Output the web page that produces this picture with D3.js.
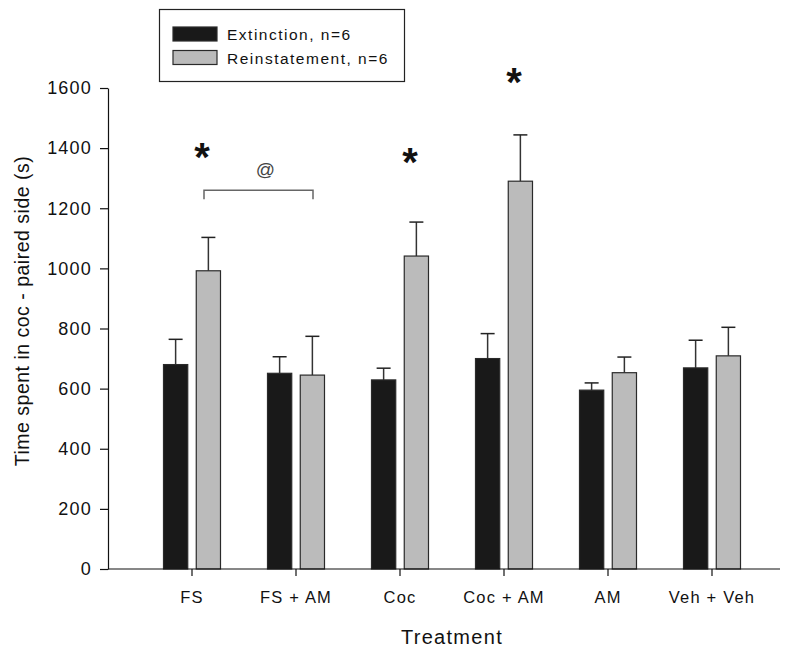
<!DOCTYPE html>
<html>
<head>
<meta charset="utf-8">
<script src="https://cdn.jsdelivr.net/npm/d3@7"></script>
<style>
  html, body { margin: 0; padding: 0; background: #fff; }
  svg { display: block; font-family: "Liberation Sans", Arial, sans-serif; }
</style>
</head>
<body>
<svg id="chart" width="800" height="651"></svg>
<script>
// ---- data ----
const categories = ["FS", "FS + AM", "Coc", "Coc + AM", "AM", "Veh + Veh"];
const seriesNames = ["Extinction, n=6", "Reinstatement, n=6"];
const extinction = [680, 651, 629, 700, 595, 669];
const extinctionErr = [84, 55, 39, 83, 24, 92];
const reinstatement = [992, 645, 1041, 1290, 653, 709];
const reinstatementErr = [111, 129, 113, 154, 52, 95];
const yTicks = [0, 200, 400, 600, 800, 1000, 1200, 1400, 1600];
const starCategories = ["FS", "Coc", "Coc + AM"];
const starLevels = [1400, 1384, 1650];
const bracketFrom = "FS", bracketTo = "FS + AM", bracketLevel = 1260, bracketLabel = "@";

// ---- layout ----
const svg = d3.select("#chart");
const axisLeftX = 108, axisRightX = 780;
const y = d3.scaleLinear().domain([0, 1600]).range([569, 88]);
const x = d3.scaleBand().domain(categories).range([140, 764]);
const sub = d3.scaleBand().domain(seriesNames).range([-28.5, 28.5]).paddingInner(0.26);
const fills = ["#191919", "#bbbbbb"];
const seriesVals = [extinction, reinstatement];
const seriesErr = [extinctionErr, reinstatementErr];
const cx = c => x(c) + x.bandwidth() / 2;

// bars + error bars
seriesNames.forEach((s, si) => {
  const g = svg.append("g");
  const data = categories.map((c, i) => ({ c, v: seriesVals[si][i], e: seriesErr[si][i] }));
  g.selectAll("line.err").data(data).join("line")
    .attr("x1", d => cx(d.c) + sub(s) + sub.bandwidth() / 2)
    .attr("x2", d => cx(d.c) + sub(s) + sub.bandwidth() / 2)
    .attr("y1", d => y(d.v)).attr("y2", d => y(d.v + d.e))
    .attr("stroke", "#333").attr("stroke-width", 1.5);
  g.selectAll("line.cap").data(data).join("line")
    .attr("x1", d => cx(d.c) + sub(s) + sub.bandwidth() / 2 - 7)
    .attr("x2", d => cx(d.c) + sub(s) + sub.bandwidth() / 2 + 7)
    .attr("y1", d => y(d.v + d.e)).attr("y2", d => y(d.v + d.e))
    .attr("stroke", "#222").attr("stroke-width", 1.5);
  g.selectAll("rect").data(data).join("rect")
    .attr("x", d => cx(d.c) + sub(s))
    .attr("width", sub.bandwidth())
    .attr("y", d => y(d.v))
    .attr("height", d => y(0) - y(d.v))
    .attr("fill", fills[si])
    .attr("stroke", "#2a2a2a").attr("stroke-width", 1.2);
});

// y axis
const yAxis = svg.append("g").attr("transform", `translate(${axisLeftX},0)`)
  .call(d3.axisLeft(y).tickValues(yTicks).tickFormat(d3.format("d"))
    .tickSize(8).tickPadding(8).tickSizeOuter(0));
yAxis.select(".domain").attr("stroke", "#111").attr("stroke-width", 1.2);
yAxis.selectAll(".tick line").attr("stroke", "#111").attr("stroke-width", 1.2);
yAxis.selectAll("text").attr("font-size", 18).attr("fill", "#111")
  .attr("font-family", "Liberation Sans, Arial, sans-serif").style("letter-spacing", "1.2px");

// x axis
const xAxis = svg.append("g").attr("transform", `translate(0,${y(0)})`)
  .call(d3.axisBottom(x).tickSize(7).tickSizeOuter(0));
xAxis.select(".domain").remove();
xAxis.selectAll(".tick line").attr("stroke", "#111").attr("stroke-width", 1.2);
xAxis.selectAll("text").attr("font-size", 16.5).attr("fill", "#111")
  .attr("font-family", "Liberation Sans, Arial, sans-serif")
  .attr("y", 34).attr("dy", 0).style("letter-spacing", "1.2px");
svg.append("line").attr("x1", axisLeftX).attr("x2", axisRightX)
  .attr("y1", y(0)).attr("y2", y(0)).attr("stroke", "#111").attr("stroke-width", 1.2);

// axis titles
svg.append("text").attr("x", (cx(categories[0]) + cx(categories[categories.length - 1])) / 2)
  .attr("y", 644).attr("text-anchor", "middle").attr("font-size", 20)
  .style("letter-spacing", "1.3px").attr("fill", "#111").text("Treatment");
svg.append("text").attr("transform", "translate(29,311) rotate(-90)")
  .attr("text-anchor", "middle").attr("font-size", 19.5).attr("fill", "#111")
  .style("letter-spacing", "0.5px")
  .text("Time spent in coc - paired side (s)");

// significance stars
svg.selectAll("text.star").data(starCategories.map((c, i) => ({ c, v: starLevels[i] })))
  .join("text").attr("class", "star")
  .attr("x", d => cx(d.c) + 10).attr("y", d => y(d.v) + 23)
  .attr("text-anchor", "middle").attr("font-size", 40).attr("font-weight", "bold")
  .attr("fill", "#111").text("*");

// bracket
const bx1 = cx(bracketFrom) + 12, bx2 = cx(bracketTo) + 17, by = y(bracketLevel);
svg.append("path").attr("d", `M${bx1},${by + 9}V${by}H${bx2}V${by + 9}`)
  .attr("fill", "none").attr("stroke", "#666").attr("stroke-width", 1.5);
svg.append("text").attr("x", (bx1 + bx2) / 2 + 7).attr("y", by - 14)
  .attr("text-anchor", "middle").attr("font-size", 19).attr("fill", "#444").text(bracketLabel);

// legend
const lg = svg.append("g");
lg.append("rect").attr("x", 159.5).attr("y", 9.5).attr("width", 245).attr("height", 72)
  .attr("fill", "#fff").attr("stroke", "#222").attr("stroke-width", 1.2);
seriesNames.forEach((s, i) => {
  lg.append("rect").attr("x", 173).attr("y", 27 + i * 23.5).attr("width", 44).attr("height", 14)
    .attr("fill", fills[i]).attr("stroke", "#2a2a2a").attr("stroke-width", 1.2);
  lg.append("text").attr("x", 227).attr("y", 39.5 + i * 24).attr("font-size", 15.5)
    .style("letter-spacing", "1.5px").attr("fill", "#111").text(s);
});
</script>
</body>
</html>
